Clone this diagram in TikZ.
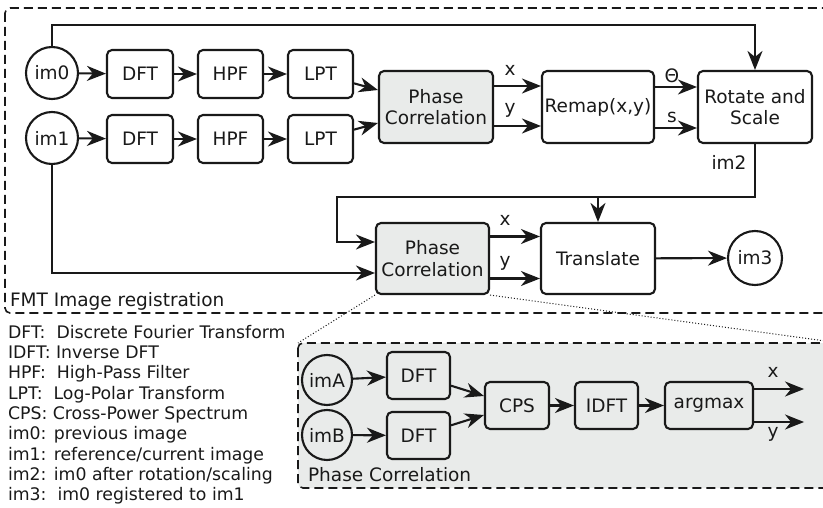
\documentclass[tikz,border=0pt]{standalone}
\usepackage{fontspec}
\setmainfont{DejaVu Sans}
\usepackage{tikz}
\usetikzlibrary{arrows.meta}
\definecolor{ink}{RGB}{25,25,25}
\definecolor{pcgray}{RGB}{233,235,234}
\begin{document}
\begin{tikzpicture}[x=1pt,y=-1pt,
  line width=2.1pt,draw=ink,text=ink,
  font=\fontsize{18.5}{21.6}\selectfont,
  >={Stealth[length=19pt,width=15pt,inset=6pt]},
  blk/.style={draw,rounded corners=5pt,align=center,inner sep=0pt},
  img/.style={draw,circle,inner sep=0pt},
  arr/.style={->},
  grp/.style={draw,rounded corners=5pt,line width=1.6pt,dash pattern=on 9pt off 5pt}]
\useasboundingbox (0,0) rectangle (823,508);
\draw[grp] (5,8) rectangle (840,313);
\draw[grp,fill=pcgray] (298,343) rectangle (840,488);
\node[img,minimum size=52pt] (im0) at (52,73) {im0};
\node[img,minimum size=52pt] (im1) at (52,138) {im1};
\node[blk,minimum width=66pt,minimum height=48pt] (dft0) at (140,74) {DFT};
\node[blk,minimum width=66pt,minimum height=48pt] (dft1) at (140,139) {DFT};
\node[blk,minimum width=65pt,minimum height=48pt] (hpf0) at (230.5,74) {HPF};
\node[blk,minimum width=65pt,minimum height=48pt] (hpf1) at (230.5,139) {HPF};
\node[blk,minimum width=65pt,minimum height=48pt] (lpt0) at (320.5,74) {LPT};
\node[blk,minimum width=65pt,minimum height=48pt] (lpt1) at (320.5,139) {LPT};
\node[blk,fill=pcgray,minimum width=114pt,minimum height=72pt] (pc1) at (436,107) {Phase\\Correlation};
\node[blk,minimum width=112pt,minimum height=72pt] (remap) at (598,107) {Remap(x,y)};
\node[blk,minimum width=114pt,minimum height=72pt] (rot) at (755,107) {Rotate and\\Scale};
\node[blk,fill=pcgray,minimum width=113pt,minimum height=71pt] (pc2) at (432.5,258.5) {Phase\\Correlation};
\node[blk,minimum width=114pt,minimum height=71pt] (trans) at (598,258.5) {Translate};
\node[img,minimum size=54pt] (im3) at (755,258) {im3};
\node[img,minimum size=50pt] (imA) at (327,380) {imA};
\node[img,minimum size=50pt] (imB) at (327,435) {imB};
\node[blk,minimum width=63pt,minimum height=47pt] (dftA) at (418.5,375.5) {DFT};
\node[blk,minimum width=63pt,minimum height=47pt] (dftB) at (418.5,435.5) {DFT};
\node[blk,minimum width=64pt,minimum height=47pt] (cps) at (517,405.5) {CPS};
\node[blk,minimum width=63pt,minimum height=47pt] (idft) at (606.5,405.5) {IDFT};
\node[blk,minimum width=88pt,minimum height=47pt] (argmax) at (709,405.5) {argmax};
\coordinate (top) at (400,25);
\coordinate (loop) at (337,197);
\draw[arr] (im0) -- (dft0);
\draw[arr] (dft0) -- (hpf0);
\draw[arr] (hpf0) -- (lpt0);
\draw[arr] (im1) -- (dft1);
\draw[arr] (dft1) -- (hpf1);
\draw[arr] (hpf1) -- (lpt1);
\draw[arr] (lpt0) -- ([yshift=17pt]pc1.west);
\draw[arr] (lpt1) -- ([yshift=-16pt]pc1.west);
\draw[arr] ([yshift=21pt]pc1.east) -- ([yshift=21pt]remap.west);
\draw[arr] ([yshift=-19pt]pc1.east) -- ([yshift=-19pt]remap.west);
\draw[arr] ([yshift=20pt]remap.east) -- ([yshift=20pt]rot.west);
\draw[arr] ([yshift=-21pt]remap.east) -- ([yshift=-21pt]rot.west);
\draw[arr] (im0.north) |- (top) -| (rot.north);
\draw[arr] (rot.south) |- (loop) |- ([yshift=16.5pt]pc2.west);
\draw[arr] (trans.north |- loop) -- (trans.north);
\draw[arr] (im1.south) |- ([yshift=-14.5pt]pc2.west);
\draw[arr] ([yshift=22pt]pc2.east) -- ([yshift=22pt]trans.west);
\draw[arr] ([yshift=-20pt]pc2.east) -- ([yshift=-20pt]trans.west);
\draw[arr] (trans) -- (im3);
\draw[arr] (imA) -- (dftA);
\draw[arr] (imB) -- (dftB);
\draw[arr] (dftA) -- ([yshift=9.5pt]cps.west);
\draw[arr] (dftB) -- ([yshift=-9.5pt]cps.west);
\draw[arr] (cps) -- (idft);
\draw[arr] (idft) -- (argmax);
\draw[arr] ([yshift=16.5pt]argmax.east) -- ++(50,0);
\draw[arr] ([yshift=-16.5pt]argmax.east) -- ++(50,0);
\draw[dotted,line width=1pt] (pc2.south west) -- (298,343);
\draw[dotted,line width=1pt] (pc2.south east) -- (840,343);
\node (lx1) at (510,70) {x};
\node (ly1) at (510,110) {y};
\node (lth) at (672,76) {Θ};
\node (ls) at (672,117) {s};
\node (lim2) at (729,162) {im2};
\node (lx2) at (505,220) {x};
\node (ly2) at (505,263) {y};
\node (lx3) at (773,372) {x};
\node (ly3) at (773,434) {y};
\node[anchor=west,inner sep=0pt] (fmt) at (9,301) {FMT Image registration};
\node[anchor=west,inner sep=0pt] (pclab) at (307,475) {Phase Correlation};
\foreach \t [count=\i] in {DFT:\ \ Discrete Fourier Transform,IDFT: Inverse DFT,HPF:\ \ High-Pass Filter,LPT:\ \ Log-Polar Transform,CPS: Cross-Power Spectrum,im0: previous image,im1: reference/current image,im2: im0 after rotation/scaling,im3:\ \ im0 registered to im1}
  \node[anchor=base west,inner sep=0pt,font=\fontsize{17.3}{20}\selectfont] (leg\i) at (7,318+20.3*\i) {\t};
\end{tikzpicture}
\end{document}
